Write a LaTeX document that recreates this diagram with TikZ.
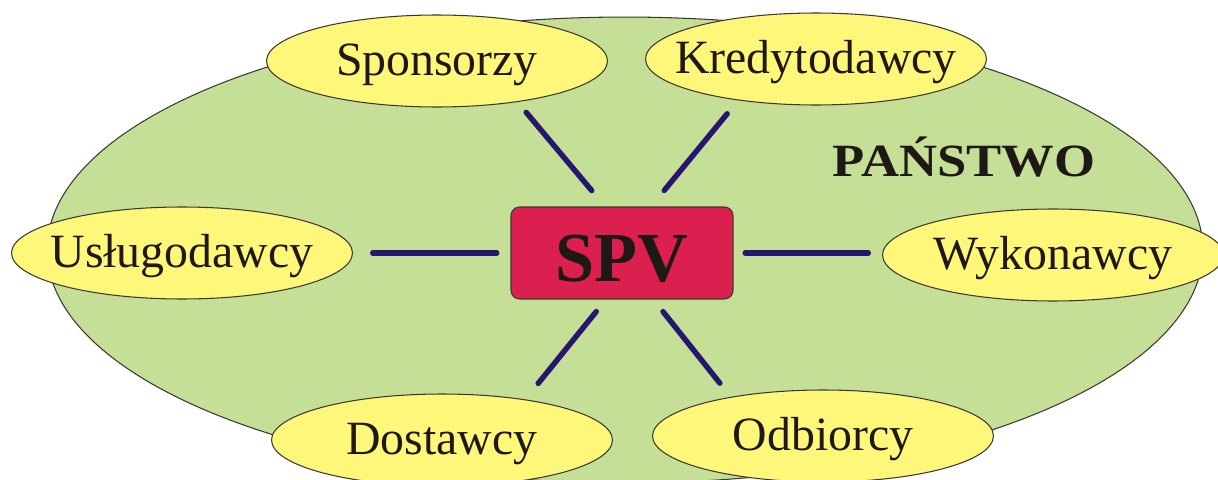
\documentclass[tikz,border=0pt]{standalone}
\usepackage{fontspec}
\setmainfont{Liberation Serif}
\usetikzlibrary{shapes.geometric}

\definecolor{stategreen}{RGB}{197,223,150}
\definecolor{partyyellow}{RGB}{255,247,122}
\definecolor{spvred}{RGB}{219,31,78}
\definecolor{linknavy}{RGB}{38,22,112}
\definecolor{inkgray}{RGB}{60,55,50}
\definecolor{textblack}{RGB}{30,25,22}

\begin{document}
\begin{tikzpicture}[x=0.02cm, y=-0.02cm,
  state/.style={ellipse, draw=inkgray, line width=0.6pt, fill=stategreen,
    minimum width=23.12cm, minimum height=9.32cm, inner sep=0pt},
  party/.style={ellipse, draw=inkgray, line width=0.6pt, fill=partyyellow,
    minimum width=6.82cm, minimum height=1.84cm, inner xsep=-2cm, inner ysep=0pt,
    text=textblack, font=\fontsize{27.2pt}{30pt}\selectfont,
    text height=0.76cm, text depth=0.18cm},
  spvbox/.style={rectangle, rounded corners=0.17cm, draw=inkgray, line width=0.6pt,
    fill=spvred, minimum width=4.44cm, minimum height=1.84cm, inner sep=0pt,
    text=textblack, font=\fontsize{40pt}{44pt}\selectfont\bfseries,
    text height=1.16cm, text depth=0pt},
  link/.style={draw=linknavy, line width=3.1pt, line cap=round}]

\useasboundingbox (0,0) rectangle (1218,480);

% background: the state
\node[state] (state) at (625,250) {};
\node[font=\fontsize{26.3pt}{30pt}\selectfont\bfseries, text=textblack, inner sep=0pt, anchor=base]
  (panstwo) at (964,176) {\scalebox{1.14}[1]{PAŃSTWO}};

% parties round the SPV
\node[party] (spons) at (437,61) {Sponsorzy};
\node[party] (kred) at (816,59) {Kredytodawcy};
\node[party] (uslug) at (182,253) {Usługodawcy};
\node[party] (wyk) at (1053,255) {Wykonawcy};
\node[party] (dost) at (442,440) {Dostawcy};
\node[party] (odb) at (823,436) {Odbiorcy};

\node[spvbox] (spv) at (622,253) {SPV};

% links
\draw[link, shorten <=0.415cm, shorten >=0.27cm] (spv.110.8) -- (spons.-27);
\draw[link, shorten <=0.415cm, shorten >=0.345cm] (spv.58.1) -- (kred.-152.5);
\draw[link, shorten <=0.275cm, shorten >=0.395cm] (spv.west) -- (spv.west -| uslug.east);
\draw[link, shorten <=0.235cm, shorten >=0.275cm] (spv.east) -- (spv.east -| wyk.west);
\draw[link, shorten <=0.31cm, shorten >=0.41cm] (spv.-109.2) -- (dost.26);
\draw[link, shorten <=0.31cm, shorten >=0.35cm] (spv.-56.9) -- (odb.157.3);

\end{tikzpicture}
\end{document}
